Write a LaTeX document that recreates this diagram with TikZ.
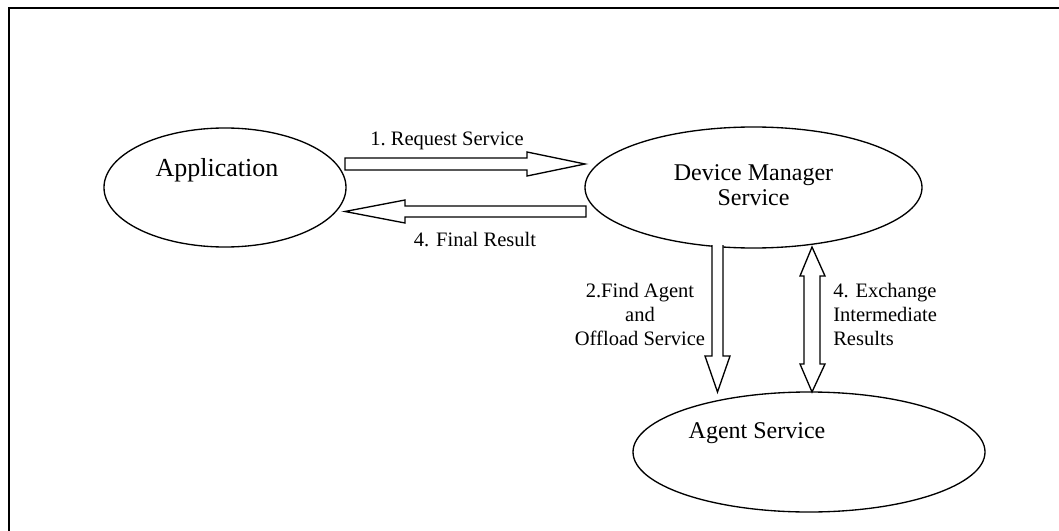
\documentclass[tikz,border=0pt]{standalone}
\usepackage{fontspec}
\setmainfont{Liberation Serif}
\usetikzlibrary{shapes.geometric}
\begin{document}
\begin{tikzpicture}[x=0.75pt,y=-0.75pt,
  svc/.style={draw,ellipse,line width=1pt,inner sep=0pt},
  blockarrow/.style={draw,line width=1pt,fill=white,line join=miter},
  lbl/.style={font=\fontsize{15.4}{18}\selectfont,inner sep=0pt},
  svctext/.style={font=\fontsize{18}{19}\selectfont,inner sep=0pt,align=center}]
\useasboundingbox (0,0) rectangle (1059,531);
% outer frame (runs off the page at right and bottom)
\draw[line width=1.3pt] (1075,8) -- (9,8) -- (9,545);

% services
\node[svc,minimum width=242*0.75pt,minimum height=119*0.75pt] (app) at (225,187.5) {};
\node[svc,minimum width=337*0.75pt,minimum height=121*0.75pt] (dms) at (753.5,187.5) {};
\node[svc,minimum width=352*0.75pt,minimum height=120*0.75pt] (agent) at (809,452) {};

\node[font=\fontsize{19.5}{22}\selectfont,inner sep=0pt] (appT) at (217,170) {Application};
\node[svctext,font=\fontsize{18}{18.8}\selectfont] (dmsT) at (753.5,185) {Device Manager\\Service};
\node[svctext] (agentT) at (757,433) {Agent Service};

% 1. request: application -> device manager
\draw[blockarrow] (345,158) -- (527,158) -- (527,152) -- (585,164) -- (527,176) -- (527,170) -- (345,170) -- cycle;
% 4. final result: device manager -> application
\draw[blockarrow] (586,206) -- (405,206) -- (405,200) -- (345,211.5) -- (405,223) -- (405,217) -- (586,217) -- cycle;
% 2. offload: device manager -> agent
\draw[blockarrow] (712,245) -- (712,356) -- (705,356) -- (717.5,392) -- (730,356) -- (723,356) -- (723,245);
% exchange of intermediate results (both ways)
\draw[blockarrow] (812,247) -- (825,276) -- (820,276) -- (820,364) -- (825,364) -- (812,392) -- (800,364) -- (804,364) -- (804,276) -- (800,276) -- cycle;

% labels
\node[lbl] (l1) at (447,141) {1.\ Request Service};
\node[lbl] (l4) at (475,240) {4. Final Result};
\node[lbl,align=center,font=\fontsize{15.4}{18}\selectfont] (l2) at (640,314) {2.Find Agent\\and\\Offload Service};
\node[lbl,align=left,anchor=west,font=\fontsize{15.4}{18}\selectfont] (l3) at (833,314) {4. Exchange\\Intermediate\\Results};
\end{tikzpicture}
\end{document}
